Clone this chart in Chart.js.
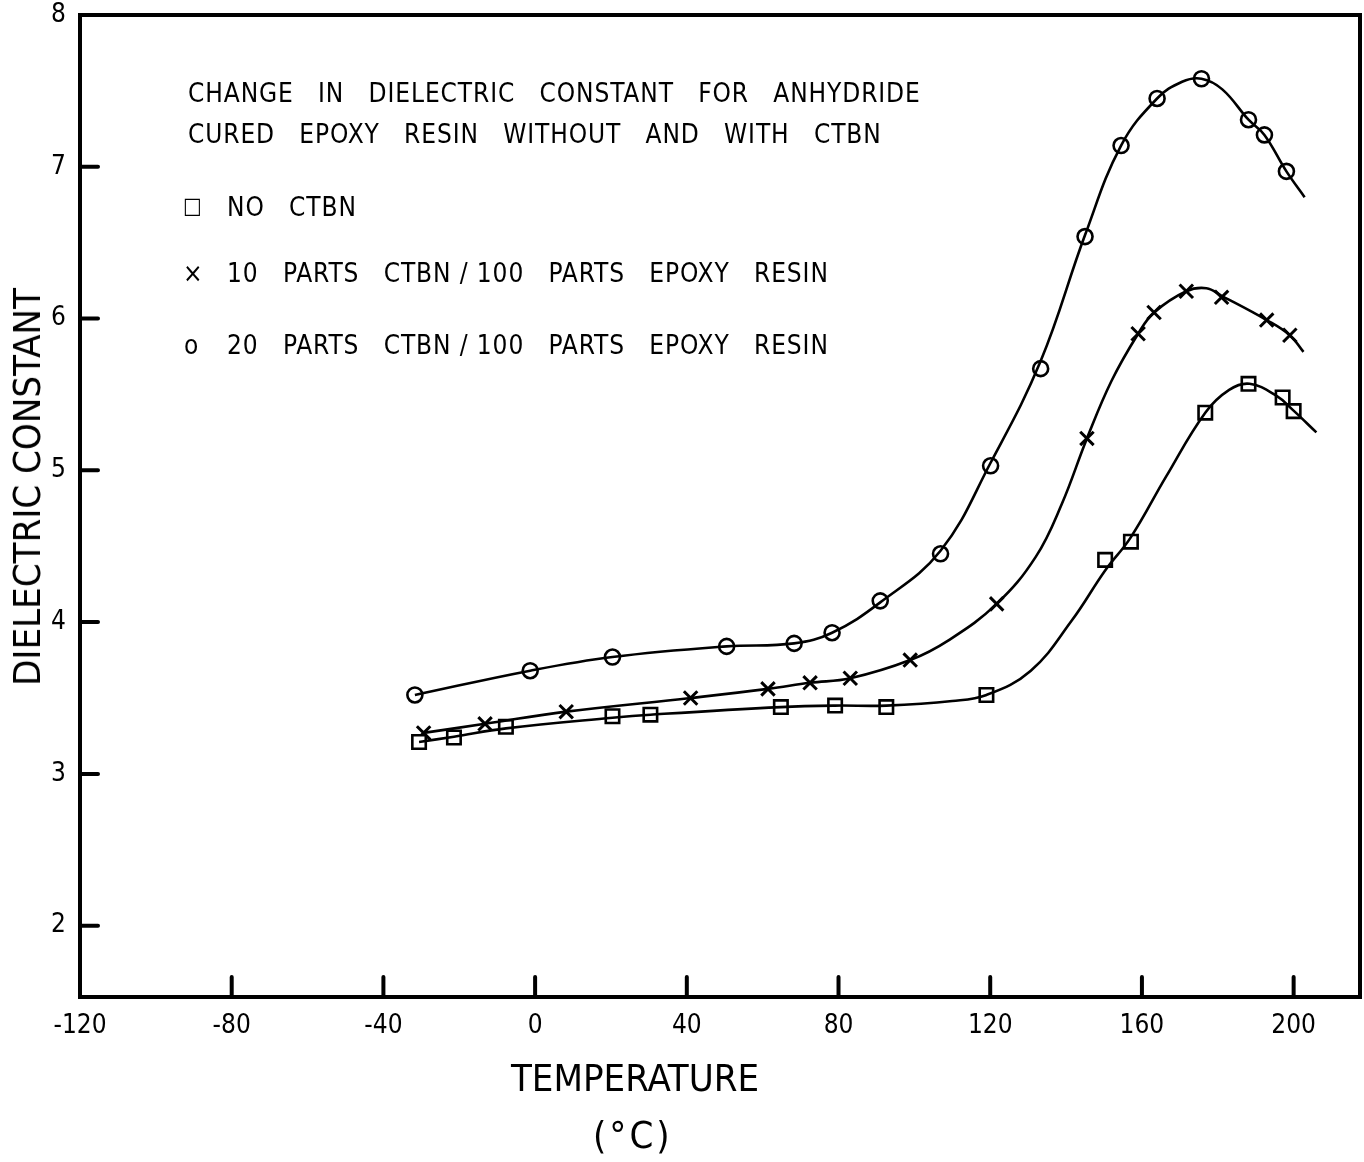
<!DOCTYPE html>
<html>
<head>
<meta charset="utf-8">
<script src="https://cdn.jsdelivr.net/npm/chart.js@4/dist/chart.umd.min.js"></script>
<style>
    body { margin: 0; background: #fff; }
    #wrap { position: relative; width: 1364px; height: 1162px; }
    .txt {
        position: absolute;
        font-family: 'DejaVu Sans Condensed', 'Liberation Sans Narrow', 'DejaVu Sans', sans-serif;
        font-stretch: condensed;
        color: #000;
        white-space: nowrap;
        line-height: 1;
        transform: translateY(-50%);
    }
    .note { font-size: 26px; letter-spacing: 0.9px; word-spacing: 16px; }
    .slash { word-spacing: 0; }
    .axisTitle { font-size: 38px; }
</style>
</head>
<body>
<div id="wrap">
    <canvas id="dielectricChart" width="1364" height="1162"></canvas>

    <div class="txt note" style="left:188px; top:93px;">CHANGE IN DIELECTRIC CONSTANT FOR ANHYDRIDE</div>
    <div class="txt note" style="left:188px; top:134px;">CURED EPOXY RESIN WITHOUT AND WITH CTBN</div>

    <div class="txt note" style="left:183px; top:206px; font-size:22px;">□</div>
    <div class="txt note" style="left:227px; top:207px;">NO CTBN</div>
    <div class="txt note" style="left:183px; top:273px;">×</div>
    <div class="txt note" style="left:227px; top:273px;">10 PARTS CTBN<span class="slash"> / </span>100 PARTS EPOXY RESIN</div>
    <div class="txt note" style="left:184px; top:345px;">o</div>
    <div class="txt note" style="left:227px; top:345px;">20 PARTS CTBN<span class="slash"> / </span>100 PARTS EPOXY RESIN</div>

    <div class="txt axisTitle" style="left:511px; top:1078px;">TEMPERATURE</div>
    <div class="txt axisTitle" style="left:593px; top:1135px; letter-spacing:3px;">(°C)</div>
    <div class="txt axisTitle" style="left:27px; top:487px; transform: translate(-50%, -50%) rotate(-90deg);">DIELECTRIC CONSTANT</div>
</div>

<script>
// ticks
const xTicks = [-120, -80, -40, 0, 40, 80, 120, 160, 200];
const yTicks = [2, 3, 4, 5, 6, 7, 8];

const noCtbnTemp = [-30.6, -21.4, -7.7, 20.4, 30.4, 64.8, 79.1, 92.6, 119, 150.3, 157.1, 176.7, 188.1, 197.1, 200];
const noCtbnValue = [3.21, 3.24, 3.31, 3.38, 3.39, 3.44, 3.45, 3.44, 3.52, 4.41, 4.53, 5.38, 5.57, 5.48, 5.39];

const ctbn10Temp = [-29.4, -13.2, 8.2, 41, 61.4, 72.5, 83.1, 98.9, 121.7, 145.5, 159, 163.2, 171.7, 181, 192.9, 199];
const ctbn10Value = [3.27, 3.33, 3.41, 3.50, 3.56, 3.60, 3.63, 3.75, 4.12, 5.21, 5.90, 6.04, 6.18, 6.14, 5.99, 5.89];

const ctbn20Temp = [-31.7, -1.3, 20.4, 50.5, 68.3, 78.3, 91, 106.9, 120.1, 133.3, 145, 154.5, 164, 175.7, 188.1, 192.3, 198.1];
const ctbn20Value = [3.52, 3.68, 3.77, 3.84, 3.86, 3.93, 4.14, 4.45, 5.03, 5.67, 6.54, 7.14, 7.45, 7.58, 7.31, 7.21, 6.97];

// hand drawn smooth curves
const noCtbnCurveTemp = [-30.6, -21.4, -7.7, 20.4, 30.4, 64.8, 79.1, 92.6, 110, 119, 130.7, 141.5, 150.3, 157.1, 166.4, 176.7, 183, 188.4, 195.5, 199.7, 206];
const noCtbnCurveValue = [3.21, 3.245, 3.30, 3.37, 3.39, 3.44, 3.45, 3.45, 3.48, 3.52, 3.68, 4.01, 4.34, 4.56, 4.96, 5.38, 5.53, 5.57, 5.49, 5.40, 5.25];

const ctbn10CurveTemp = [-29.4, -13.2, 8.2, 41, 61.4, 72.5, 83.1, 98.9, 109, 121.7, 132, 138.9, 145.5, 152, 159, 163.2, 171.7, 177, 181, 192.9, 199, 202.6];
const ctbn10CurveValue = [3.27, 3.33, 3.41, 3.50, 3.56, 3.60, 3.63, 3.75, 3.88, 4.12, 4.43, 4.78, 5.21, 5.59, 5.90, 6.04, 6.18, 6.20, 6.15, 5.99, 5.89, 5.78];

const ctbn20CurveTemp = [-31.7, -1.3, 20.4, 50.5, 68.3, 78.3, 91, 106.9, 120.1, 133.3, 145, 154.5, 164, 170.6, 175.7, 181.2, 188.1, 192.3, 198.1, 202.9];
const ctbn20CurveValue = [3.52, 3.68, 3.77, 3.84, 3.86, 3.93, 4.13, 4.47, 5.05, 5.72, 6.55, 7.14, 7.45, 7.56, 7.58, 7.51, 7.31, 7.21, 6.97, 6.80];

function toPoints(xs, ys) {
    return xs.map((x, i) => ({ x: x, y: ys[i] }));
}

const FONT = "'DejaVu Sans Condensed', 'Liberation Sans Narrow', 'DejaVu Sans', sans-serif";

// box round the plot plus inward pointing ticks
const frameTicks = {
    id: 'frameTicks',
    beforeDatasetsDraw(chart) {
        const { ctx, chartArea: a, scales } = chart;
        ctx.save();
        ctx.strokeStyle = '#000';
        ctx.lineWidth = 4;
        ctx.lineCap = 'round';
        ctx.strokeRect(a.left, a.top, a.right - a.left, a.bottom - a.top);
        ctx.beginPath();
        xTicks.forEach(v => {
            const px = scales.x.getPixelForValue(v);
            ctx.moveTo(px, a.bottom);
            ctx.lineTo(px, a.bottom - 20);
        });
        yTicks.forEach(v => {
            const py = scales.y.getPixelForValue(v);
            ctx.moveTo(a.left, py);
            ctx.lineTo(a.left + 18, py);
        });
        ctx.stroke();
        ctx.restore();
    }
};

// no extra room for tick labels, the plot box is placed by layout padding
function noScalePadding(s) {
    s.paddingTop = 0;
    s.paddingBottom = 0;
    s.paddingLeft = 0;
    s.paddingRight = 0;
}

const curveStyle = {
    showLine: true,
    borderColor: '#000',
    borderWidth: 2.6,
    pointRadius: 0,
    tension: 0.4,
    fill: false
};

const markerStyle = {
    showLine: false,
    pointBorderColor: '#000',
    pointBackgroundColor: '#fff',
    pointBorderWidth: 2.6
};

new Chart(document.getElementById('dielectricChart'), {
    type: 'scatter',
    data: {
        datasets: [
            Object.assign({ label: 'NO CTBN curve', data: toPoints(noCtbnCurveTemp, noCtbnCurveValue) }, curveStyle),
            Object.assign({ label: '10 PARTS curve', data: toPoints(ctbn10CurveTemp, ctbn10CurveValue) }, curveStyle),
            Object.assign({ label: '20 PARTS curve', data: toPoints(ctbn20CurveTemp, ctbn20CurveValue) }, curveStyle),
            Object.assign({ label: 'NO CTBN', data: toPoints(noCtbnTemp, noCtbnValue), pointStyle: 'rect', pointRadius: 9.5 }, markerStyle),
            Object.assign({ label: '10 PARTS CTBN / 100 PARTS EPOXY RESIN', data: toPoints(ctbn10Temp, ctbn10Value), pointStyle: 'crossRot', pointRadius: 9.5 }, markerStyle, { pointBorderWidth: 3 }),
            Object.assign({ label: '20 PARTS CTBN / 100 PARTS EPOXY RESIN', data: toPoints(ctbn20Temp, ctbn20Value), pointStyle: 'circle', pointRadius: 7.5 }, markerStyle)
        ]
    },
    options: {
        responsive: false,
        animation: false,
        layout: { autoPadding: false, padding: { top: 15, right: 4, left: 0, bottom: 0 } },
        plugins: {
            legend: { display: false },
            tooltip: { enabled: false }
        },
        scales: {
            x: {
                type: 'linear',
                min: -120,
                max: 217.5,
                afterBuildTicks: s => { s.ticks = xTicks.map(v => ({ value: v })); },
                afterFit: s => { s.height = 165; noScalePadding(s); },
                grid: { display: false, drawTicks: false },
                border: { display: false },
                ticks: {
                    color: '#000',
                    padding: 14,
                    maxRotation: 0,
                    font: { family: FONT, size: 26 },
                    callback: v => String(v)
                }
            },
            y: {
                type: 'linear',
                min: 1.53,
                max: 8,
                afterBuildTicks: s => { s.ticks = yTicks.map(v => ({ value: v })); },
                afterFit: s => { s.width = 80; noScalePadding(s); },
                grid: { display: false, drawTicks: false },
                border: { display: false },
                ticks: {
                    color: '#000',
                    padding: 14,
                    font: { family: FONT, size: 26 },
                    callback: v => String(v)
                }
            }
        }
    },
    plugins: [frameTicks]
});
</script>
</body>
</html>
